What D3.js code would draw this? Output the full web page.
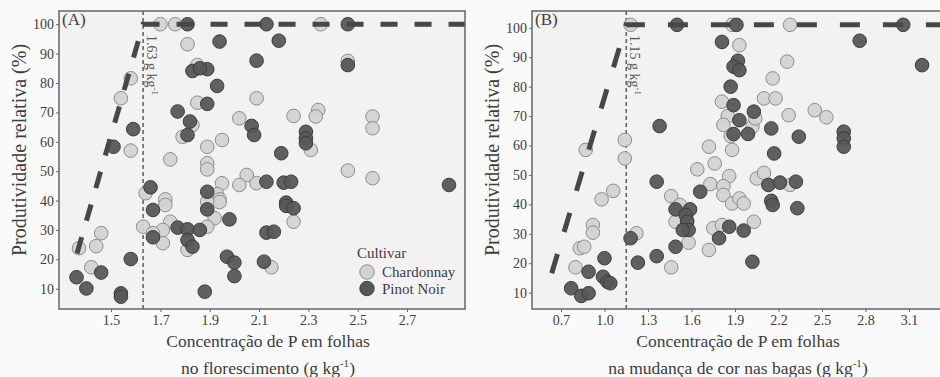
<!DOCTYPE html>
<html><head><meta charset="utf-8">
<script src="https://cdn.jsdelivr.net/npm/d3@7"></script>
<style>
html,body{margin:0;padding:0;background:#fafafa;}
svg{display:block;}
svg text{font-family:"Liberation Serif","DejaVu Serif","Noto Serif",serif !important;}
</style></head>
<body>
<svg id="c" width="940" height="377"></svg>
<script>
// ---------- DATA ----------
const cultivars = ["Chardonnay", "Pinot Noir"];
const yTicks = [10,20,30,40,50,60,70,80,90,100];
const xTicksA = [1.5,1.7,1.9,2.1,2.3,2.5,2.7];
const xTicksB = [0.7,1.0,1.3,1.6,1.9,2.2,2.5,2.8,3.1];
const critA = 1.63;
const critB = 1.15;
// linear-plateau model points [x, y]
const modelA = [[1.362,22],[1.63,100],[2.95,100]];
const modelB = [[0.636,16.6],[1.15,101],[3.40,101]];

const chardA = [[1.70,100],[1.76,100],[2.35,100],[1.81,93.2],[1.85,86.1],[1.85,73.3],[2.09,74.8],[1.83,65.7],[1.79,61.7],[2.02,68],
[2.24,68.8],[2.34,70.8],[2.33,68.6],[2.56,68.6],[2.56,64.6],[1.58,81.6],[1.54,74.8],[1.58,57],[1.74,54],[1.89,58.3],
[1.89,52.7],[1.89,50.6],[1.95,60.6],[2.31,57.2],[2.46,50.2],[2.56,47.6],[2.46,87.5],[1.95,45.9],[2.05,48.7],[2.02,45.3],
[2.09,45.9],[1.64,42.5],[1.63,31.1],[1.72,40.4],[1.72,38.5],[1.74,32.8],[1.71,30],[1.67,28.9],[1.71,25.5],[1.93,42.2],
[1.94,40.4],[1.94,39.5],[1.89,39.6],[1.92,34],[1.89,31.1],[1.81,23.2],[2.24,32.8],[2.15,17.3],[1.42,17.3],[1.46,28.9],
[1.44,24.5],[1.37,23.8]];
const pinotA = [[1.81,100],[2.13,100],[2.46,100],[1.94,94.1],[2.18,94.4],[2.09,87.6],[2.46,86.1],[1.83,84.1],[1.89,84.7],[1.86,85],
[1.93,79],[1.89,72.9],[1.77,70.3],[1.82,66.9],[1.81,62.3],[2.07,65.4],[2.08,62.3],[2.29,63.4],[2.29,61.2],[2.29,59.5],
[2.19,56.1],[1.51,58.3],[1.59,64.3],[1.66,44.5],[1.89,43],[2.13,46.4],[2.20,46.1],[2.23,46.4],[2.87,45.3],[1.67,36.8],
[1.67,27.5],[1.77,30.8],[1.81,30.2],[1.86,30],[1.81,26.6],[1.83,24.3],[1.89,37],[1.98,33.6],[1.97,20.9],[2.00,18.9],
[2.00,14.3],[1.88,9],[2.12,19.2],[2.13,29.1],[2.16,29.4],[2.21,39.3],[2.21,38.2],[2.24,37.4],[1.36,13.9],[1.40,10.1],
[1.46,15.5],[1.58,20.1],[1.54,8.4],[1.54,7.3]];

const chardB = [[1.18,101],[1.88,101],[2.28,101],[1.93,94.1],[1.91,86.8],[2.26,88.5],[2.16,82.8],[1.81,74.9],[2.10,76],[2.18,76],
[1.85,70],[1.82,67],[2.02,66.4],[2.04,69.2],[2.27,70.3],[2.45,72],[2.53,69.6],[1.87,63.2],[1.88,58.5],[1.72,59.6],
[1.76,53.9],[1.64,51.9],[1.86,49.6],[1.73,46.9],[1.82,46.2],[2.05,48.8],[2.10,50.7],[1.14,61.9],[1.14,55.6],[0.87,58.5],
[1.06,44.6],[0.98,41.7],[0.92,33],[0.92,30.4],[0.83,25.1],[0.86,25.6],[0.80,18.6],[1.22,30.2],[1.46,42.8],[1.52,39.8],
[1.49,34.1],[1.57,34.7],[1.58,27],[1.46,18.6],[1.82,43.2],[1.88,40.3],[1.93,42],[1.96,40.3],[2.03,34.1],[1.75,31.9],
[1.81,33],[1.72,24.5],[2.28,46.6]];
const pinotB = [[1.50,101],[1.91,101],[3.06,101],[1.81,95.2],[2.76,95.6],[3.19,87.3],[1.92,88.8],[1.89,86.8],[1.93,85.6],[1.87,80],
[1.89,73.7],[2.03,71.5],[1.93,68.6],[1.38,66.6],[1.89,63.9],[1.99,63.9],[2.15,65.8],[2.34,63],[2.17,57.3],[2.65,64.7],
[2.65,62.4],[2.65,59.6],[1.36,47.7],[2.13,46.6],[2.21,47.4],[2.32,47.7],[1.66,44.3],[1.49,38.3],[1.59,38.3],[1.56,36.4],
[1.57,34.1],[1.58,31.3],[1.54,31.3],[1.49,25.6],[1.36,22.4],[1.23,20.2],[1.18,28.5],[1.86,32.4],[1.79,28.5],[1.96,31.1],
[2.02,20.5],[2.15,41.2],[2.16,39.8],[2.33,38.7],[1.00,21.7],[0.89,17.1],[0.77,11.5],[0.84,8.9],[0.89,9.8],[0.99,15.4],
[1.02,13.7],[1.04,13.2]];

// ---------- DRAW ----------
const svg = d3.select("#c");
const fills = {"Chardonnay":"#d3d3d3","Pinot Noir":"#575757"};
const strokes = {"Chardonnay":"#8c8c8c","Pinot Noir":"#3c3c3c"};
const ink = "#3d3d3d";
const serif = "Liberation Serif, DejaVu Serif, Noto Serif, serif";

function panel(cfg){
  const g = svg.append("g");
  const x = d3.scaleLinear().domain(cfg.xDom).range([cfg.left, cfg.right]);
  const y = d3.scaleLinear().domain(cfg.yDom).range([cfg.bottom, cfg.top]);
  const clipId = "clip"+cfg.name;
  svg.append("clipPath").attr("id",clipId).append("rect")
    .attr("x",cfg.left).attr("y",cfg.top).attr("width",cfg.right-cfg.left).attr("height",cfg.bottom-cfg.top);
  g.append("rect").attr("x",cfg.left).attr("y",cfg.top).attr("width",cfg.right-cfg.left).attr("height",cfg.bottom-cfg.top)
    .attr("fill","#f2f2f2");
  const inner = g.append("g").attr("clip-path",`url(#${clipId})`);
  inner.append("line").attr("x1",x(cfg.crit)).attr("x2",x(cfg.crit)).attr("y1",cfg.top).attr("y2",cfg.bottom)
    .attr("stroke","#666").attr("stroke-width",1.6).attr("stroke-dasharray","4,3");
  const series = [[cfg.chard,"Chardonnay"],[cfg.pinot,"Pinot Noir"]];
  const all = [];
  cfg.order.forEach(k => { const s = series[k]; s[0].forEach(p => all.push({p, c:s[1]})); });
  inner.selectAll("circle.pt").data(all).join("circle").attr("class","pt")
    .attr("cx",d=>x(d.p[0])).attr("cy",d=>y(d.p[1])).attr("r",6.8)
    .attr("fill",d=>fills[d.c]).attr("stroke",d=>strokes[d.c]).attr("stroke-width",1)
    .attr("fill-opacity",0.95);
  inner.append("path").datum(cfg.model)
    .attr("d", d3.line().x(d=>x(d[0])).y(d=>y(d[1])))
    .attr("fill","none").attr("stroke","#474747").attr("stroke-width",5)
    .attr("stroke-dasharray",cfg.dash);
  const lx = x(cfg.crit)+4, ly = cfg.top+24;
  const t = inner.append("text").attr("transform",`translate(${lx},${ly}) rotate(90)`)
    .attr("font-size",14).attr("fill","#555");
  t.append("tspan").text(cfg.critLabel+" g kg");
  t.append("tspan").attr("font-size",9).attr("dy",-5).text("-1");
  g.append("rect").attr("x",cfg.left).attr("y",cfg.top).attr("width",cfg.right-cfg.left).attr("height",cfg.bottom-cfg.top)
    .attr("fill","none").attr("stroke","#666").attr("stroke-width",1.5);
  const ya = g.append("g").attr("transform",`translate(${cfg.left},0)`)
    .call(d3.axisLeft(y).tickValues(yTicks).tickSize(3).tickPadding(2));
  const xa = g.append("g").attr("transform",`translate(0,${cfg.bottom})`)
    .call(d3.axisBottom(x).tickValues(cfg.xTicks).tickFormat(d3.format(".1f")).tickSize(3).tickPadding(3));
  [ya,xa].forEach(a=>{
    a.attr("font-family",serif);
    a.select(".domain").remove();
    a.selectAll("line").attr("stroke","#666");
    a.selectAll("text").attr("font-size",14).attr("fill",ink);
  });
  g.append("text").attr("x",cfg.left+3).attr("y",cfg.top+14).attr("font-size",17).attr("fill",ink).text(cfg.letter);
  g.append("text").attr("transform",`translate(${cfg.left-33},${(cfg.top+cfg.bottom)/2-10}) rotate(-90)`)
    .attr("text-anchor","middle").attr("font-size",20).attr("fill",ink).text("Produtividade relativa (%)");
  const cx = cfg.titleX;
  g.append("text").attr("x",cx).attr("y",cfg.bottom+38).attr("text-anchor","middle")
    .attr("font-size",17.5).attr("fill",ink).text("Concentração de P em folhas");
  const t2 = g.append("text").attr("x",cx).attr("y",cfg.bottom+65).attr("text-anchor","middle")
    .attr("font-size",17.5).attr("fill",ink);
  t2.append("tspan").text(cfg.title2+" (g kg");
  t2.append("tspan").attr("font-size",11).attr("dy",-7).text("-1");
  t2.append("tspan").attr("dy",7).text(")");
  return {g,x,y};
}

svg.attr("font-family",serif);
const A = panel({name:"A", letter:"(A)", left:59, right:465, top:11, bottom:309,
  xDom:[1.289,2.935], yDom:[3.1,104.5], xTicks:xTicksA, crit:critA, critLabel:"1.63",
  chard:chardA, pinot:pinotA, model:modelA, dash:"17,17", order:[0,1],
  titleX:268, title2:"no florescimento"});
const B = panel({name:"B", letter:"(B)", left:532, right:942, top:11, bottom:309,
  xDom:[0.5,3.3276], yDom:[4.45,105.7], xTicks:xTicksB, crit:critB, critLabel:"1.15",
  chard:chardB, pinot:pinotB, model:modelB, dash:"20,23", order:[0,1],
  titleX:738, title2:"na mudança de cor nas bagas"});

const lg = svg.append("g");
lg.append("text").attr("x",357).attr("y",258).attr("font-size",15).attr("fill",ink).text("Cultivar");
cultivars.forEach((c,i)=>{
  const yy = 272 + i*16.5;
  lg.append("circle").attr("cx",367).attr("cy",yy).attr("r",7.2)
    .attr("fill",fills[c]).attr("stroke",strokes[c]).attr("stroke-width",1);
  lg.append("text").attr("x",382).attr("y",yy+5).attr("font-size",15).attr("fill",ink).text(c);
});
</script>
</body></html>
